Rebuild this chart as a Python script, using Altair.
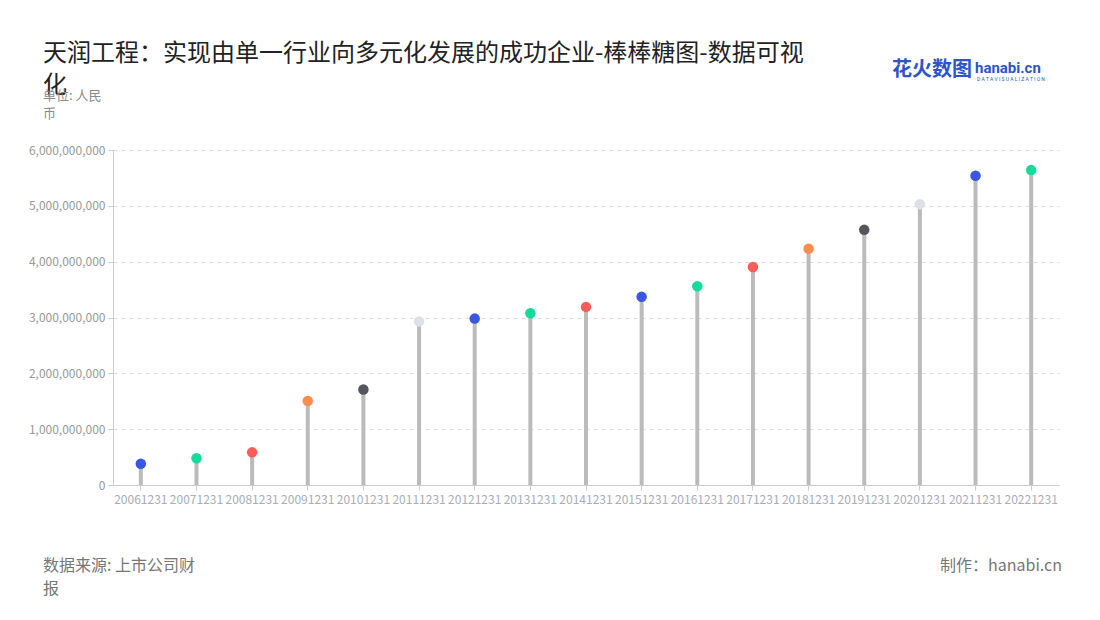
import altair as alt
import pandas as pd

dates = ["20061231", "20071231", "20081231", "20091231", "20101231", "20111231",
         "20121231", "20131231", "20141231", "20151231", "20161231", "20171231",
         "20181231", "20191231", "20201231", "20211231", "20221231"]
values = [0.38e9, 0.48e9, 0.585e9, 1.505e9, 1.71e9, 2.93e9, 2.98e9, 3.075e9, 3.19e9,
          3.37e9, 3.56e9, 3.905e9, 4.23e9, 4.57e9, 5.03e9, 5.54e9, 5.64e9]
colors = ["#3a56e6", "#13dc9a", "#ff5b57", "#ff8c4f", "#55555e", "#dde0e9",
          "#3a56e6", "#13dc9a", "#ff5b57", "#3a56e6", "#13dc9a", "#ff5b57",
          "#ff8c4f", "#55555e", "#dde0e9", "#3a56e6", "#13dc9a"]
y_ticks = [0, 1e9, 2e9, 3e9, 4e9, 5e9, 6e9]

title_lines = "天润工程：实现由单一行业向多元化发展的成功企业-棒棒糖图-数据可视\n化"
unit_text = "单位: 人民\n币"
source_text = "数据来源: 上市公司财\n报"
credit_text = "制作：hanabi.cn"

df = pd.DataFrame({"date": dates, "value": values, "color": colors})

FONT = "Noto Sans CJK SC"
W, H = 946, 335

x_enc = alt.X("date:N", sort=None, title=None,
              axis=alt.Axis(labelAngle=0, labelOverlap=False, labelColor="#a9adb8",
                            labelFontSize=12, labelFont=FONT, domainColor="#cccccc",
                            tickColor="#cccccc", tickSize=5, labelPadding=4, grid=False))
y_enc = alt.Y("value:Q", title=None,
              scale=alt.Scale(domain=[0, 6e9], nice=False),
              axis=alt.Axis(values=y_ticks, format=",.0f", labelColor="#999999",
                            labelFontSize=12, labelFont=FONT, domainColor="#cccccc",
                            tickColor="#cccccc", tickSize=5, labelPadding=3,
                            grid=True, gridDash=[4, 4], gridColor="#dddddd"))

base = alt.Chart(df)
stems = base.mark_rule(color="#bbbbbb", strokeWidth=4).encode(
    x=x_enc, y=y_enc, y2=alt.datum(0))
dots = base.mark_circle(size=110, opacity=1).encode(
    x=x_enc, y=y_enc, color=alt.Color("color:N", scale=None))


def label(text, x, y, size, color, align="left", baseline="top", weight="normal",
          line_height=None, font=FONT):
    kw = dict(align=align, baseline=baseline, fontSize=size, color=color,
              font=font, fontWeight=weight, lineBreak="\n")
    if line_height:
        kw["lineHeight"] = line_height
    return alt.Chart(pd.DataFrame({"t": [text]})).mark_text(**kw).encode(
        text="t:N", x=alt.value(x), y=alt.value(y))


title = label(title_lines, -70, -108, 24, "#222222", line_height=32)
unit = label(unit_text, -70, -60, 13, "#8a8a8a", line_height=18)
source = label(source_text, -70, 408, 16, "#777777", line_height=23)
credit = label(credit_text, 949, 408, 16, "#777777", align="right")
logo1 = label("花火数图", 779, -90, 20, "#2b55c8", weight="bold")
logo2 = label("hanabi.cn", 862, -89, 15, "#2b55c8", weight="bold", font="Roboto")
logo3 = label("D A T A  V I S U A L I Z A T I O N", 864, -73, 5, "#2b55c8", font="Roboto")

chart = alt.layer(stems, dots, title, unit, source, credit, logo1, logo2, logo3).properties(
    width=W, height=H,
    autosize=alt.AutoSizeParams(type="none"),
    padding={"left": 105, "top": 142, "right": 30, "bottom": 120},
).configure(background="white").configure_view(stroke=None)

chart.save("out.html", embed_options={"renderer": "svg", "actions": False})
